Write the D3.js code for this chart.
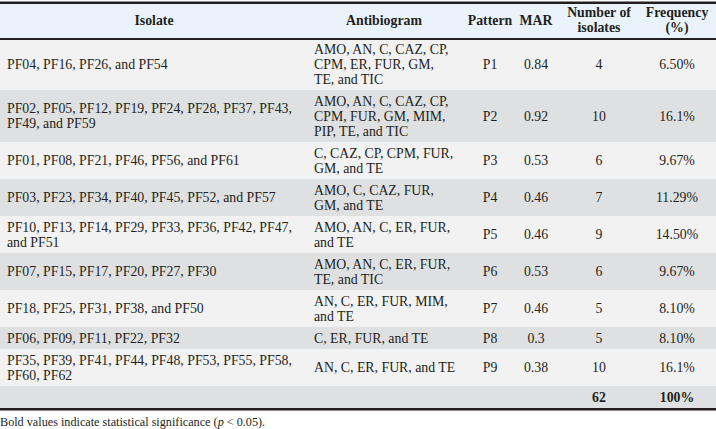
<!doctype html>
<html>
  <head>
    <meta charset="utf-8">
    <title>antibiogram patterns table</title>
    <script src="https://d3js.org/d3.v7.min.js"></script>
    <style type="text/css">
      body { margin: 0; background: #fff; }
      text {
        font-family: "Liberation Serif", "Times New Roman", serif;
        font-size: 13.8px;
        fill: #231f20;
      }
      .head { font-weight: bold; text-anchor: middle; }
      .note { font-size: 12.2px; }
    </style>
  </head>
  <body>
    <svg></svg>
    <script type="text/javascript">
      var w = 716,
        h = 429;

      // table content, one entry per row
      var isolates = [
        ['PF04, PF16, PF26, and PF54'],
        ['PF02, PF05, PF12, PF19, PF24, PF28, PF37, PF43,', 'PF49, and PF59'],
        ['PF01, PF08, PF21, PF46, PF56, and PF61'],
        ['PF03, PF23, PF34, PF40, PF45, PF52, and PF57'],
        ['PF10, PF13, PF14, PF29, PF33, PF36, PF42, PF47,', 'and PF51'],
        ['PF07, PF15, PF17, PF20, PF27, PF30'],
        ['PF18, PF25, PF31, PF38, and PF50'],
        ['PF06, PF09, PF11, PF22, PF32'],
        ['PF35, PF39, PF41, PF44, PF48, PF53, PF55, PF58,', 'PF60, PF62']
      ];
      var antibiograms = [
        ['AMO, AN, C, CAZ, CP,', 'CPM, ER, FUR, GM,', 'TE, and TIC'],
        ['AMO, AN, C, CAZ, CP,', 'CPM, FUR, GM, MIM,', 'PIP, TE, and TIC'],
        ['C, CAZ, CP, CPM, FUR,', 'GM, and TE'],
        ['AMO, C, CAZ, FUR,', 'GM, and TE'],
        ['AMO, AN, C, ER, FUR,', 'and TE'],
        ['AMO, AN, C, ER, FUR,', 'TE, and TIC'],
        ['AN, C, ER, FUR, MIM,', 'and TE'],
        ['C, ER, FUR, and TE'],
        ['AN, C, ER, FUR, and TE']
      ];
      var patterns = ['P1', 'P2', 'P3', 'P4', 'P5', 'P6', 'P7', 'P8', 'P9'];
      var mar = ['0.84', '0.92', '0.53', '0.46', '0.46', '0.53', '0.46', '0.3', '0.38'];
      var counts = [4, 10, 6, 7, 9, 6, 5, 5, 10];
      var freqs = ['6.50%', '16.1%', '9.67%', '11.29%', '14.50%', '9.67%', '8.10%', '8.10%', '16.1%'];
      var totalCount = 62;
      var totalFreq = '100%';

      var columns = ['Isolate', 'Antibiogram', 'Pattern', 'MAR', 'Number', 'Frequency'];
      var headers = [['Isolate'], ['Antibiogram'], ['Pattern'], ['MAR'],
        ['Number of', 'isolates'], ['Frequency', '(%)']];

      var lineH = 15,
        pad = 7,
        tableTop = 2,
        headH = 36;

      // column centres / left edges
      var xCol = d3.scaleOrdinal()
        .domain(columns)
        .range([154, 384, 490, 536, 599, 677]);
      var xLeft = d3.scaleOrdinal()
        .domain(['Isolate', 'Antibiogram'])
        .range([7, 314]);

      // build rows
      var rows = patterns.map(function(p, i) {
        return {
          cells: [isolates[i], antibiograms[i], [p], [mar[i]], [String(counts[i])], [freqs[i]]],
          bold: false
        };
      });
      rows.push({
        cells: [[''], [''], [''], [''], [String(totalCount)], [totalFreq]],
        bold: true
      });

      var yPos = tableTop + headH;
      rows.forEach(function(r) {
        r.lines = d3.max(r.cells, function(c) { return c.length; });
        r.y = yPos;
        r.h = r.lines * lineH + pad;
        yPos += r.h;
      });
      var tableBottom = yPos;

      var svg = d3.select('svg')
        .attr('width', w)
        .attr('height', h);

      // header
      svg.append('rect')
        .attr('x', 0).attr('y', tableTop)
        .attr('width', w).attr('height', headH)
        .attr('fill', '#eaf3fb');

      // row backgrounds
      svg.selectAll('rect.row')
        .data(rows)
        .enter()
        .append('rect')
        .attr('class', 'row')
        .attr('x', 0)
        .attr('y', function(d) { return d.y; })
        .attr('width', w)
        .attr('height', function(d) { return d.h; })
        .attr('fill', function(d, i) { return i % 2 ? '#dfe0e1' : '#f2f2f2'; });

      // header text
      headers.forEach(function(lines, j) {
        var off = tableTop + headH / 2 - (lines.length - 1) * lineH / 2;
        lines.forEach(function(t, k) {
          svg.append('text')
            .attr('class', 'head')
            .attr('x', xCol(columns[j]))
            .attr('y', off + k * lineH)
            .attr('dy', '0.35em')
            .text(t);
        });
      });

      // cell text
      rows.forEach(function(r) {
        r.cells.forEach(function(lines, j) {
          var col = columns[j];
          var left = j < 2;
          var off = r.y + r.h / 2 - (lines.length - 1) * lineH / 2;
          lines.forEach(function(t, k) {
            if (!t) return;
            svg.append('text')
              .attr('x', left ? xLeft(col) : xCol(col))
              .attr('y', off + k * lineH)
              .attr('dy', '0.35em')
              .style('text-anchor', left ? 'start' : 'middle')
              .style('font-weight', r.bold ? 'bold' : null)
              .text(t);
          });
        });
      });

      // rules
      var rules = [[tableTop - 0.5, 2.5], [tableTop + headH, 2], [tableBottom, 2.5]];
      svg.selectAll('rect.rule')
        .data(rules)
        .enter()
        .append('rect')
        .attr('class', 'rule')
        .attr('x', 0)
        .attr('y', function(d) { return d[0]; })
        .attr('width', w)
        .attr('height', function(d) { return d[1]; })
        .attr('fill', '#231f20');

      // footnote
      var note = svg.append('text')
        .attr('class', 'note')
        .attr('x', 0)
        .attr('y', tableBottom + 18);
      note.append('tspan').text('Bold values indicate statistical significance (');
      note.append('tspan').style('font-style', 'italic').text('p');
      note.append('tspan').text(' < 0.05).');
    </script>
  </body>
</html>
